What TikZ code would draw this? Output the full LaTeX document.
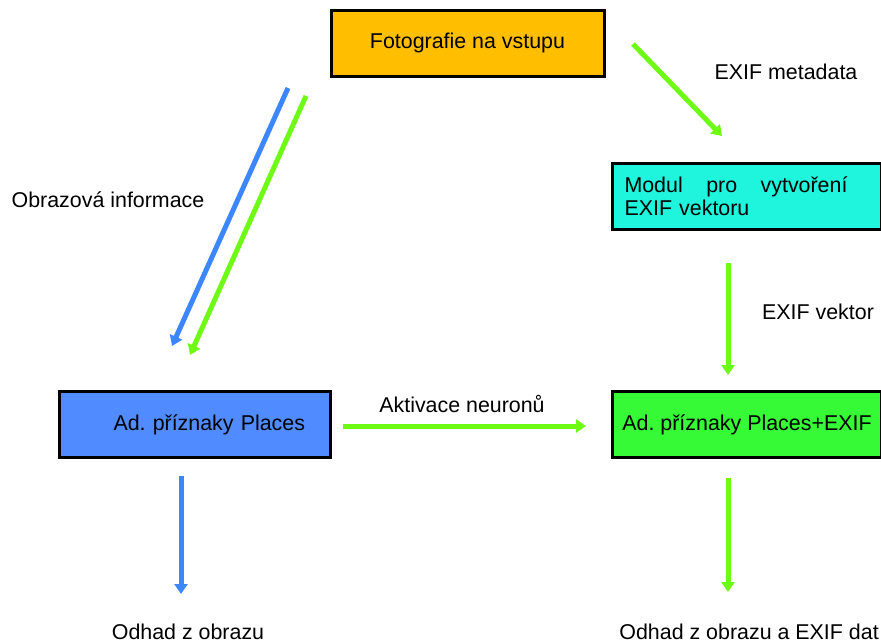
\documentclass[tikz,border=0pt]{standalone}
\usepackage{fontspec}
\setmainfont{Liberation Sans}
\usetikzlibrary{arrows.meta}

\definecolor{boxorange}{RGB}{255,190,0}
\definecolor{boxcyan}{RGB}{30,245,220}
\definecolor{boxblue}{RGB}{80,140,255}
\definecolor{boxgreen}{RGB}{55,250,55}
\definecolor{arrgreen}{RGB}{110,250,20}
\definecolor{arrblue}{RGB}{60,135,255}

\begin{document}
\begin{tikzpicture}[x=0.5pt,y=-0.5pt]
	\tikzstyle{every node}+=[font=\fontsize{10.7}{11.5}\selectfont\frenchspacing]
	\tikzstyle{box}=[draw=black,line width=1.5pt,rectangle,inner sep=0pt,minimum height=33pt]
	\tikzstyle{lbl}=[inner sep=0pt,anchor=base]
	\tikzstyle{greenarr}=[draw=arrgreen,line width=2.5pt,-{Triangle[length=5pt,width=6.5pt]}]
	\tikzstyle{bluearr}=[draw=arrblue,line width=2.5pt,-{Triangle[length=5pt,width=6.5pt]}]
	\useasboundingbox (0,0) rectangle (881,643);
	% boxes
	\node [box,fill=boxorange,minimum width=136.5pt] (foto) at (467.5,43) {Fotografie na vstupu};
	\node [box,fill=boxcyan,inner xsep=6pt,text width=122.5pt,align=left] (modul) at (747,196.5)
		{Modul\hfill pro\hfill vytvoření\kern11pt\\EXIF vektoru};
	\node [box,fill=boxblue,inner xsep=12.5pt,text width=110.5pt,align=right] (places) at (194.5,424.5) {Ad. příznaky Places};
	\node [box,fill=boxgreen,minimum width=134.5pt] (placesexif) at (747,424.5) {Ad. příznaky Places+EXIF};
	% arrow ends
	\coordinate (meta0) at (633,44);
	\coordinate (meta1) at (722,136);
	\coordinate (obrB0) at (288,88);
	\coordinate (obrB1) at (172,346);
	\coordinate (obrG0) at (306,96);
	\coordinate (obrG1) at (190,355);
	\coordinate (vek0) at (728,263);
	\coordinate (vek1) at (728,375);
	\coordinate (akt0) at (343,426);
	\coordinate (akt1) at (586,426);
	\coordinate (odh0) at (181,476);
	\coordinate (odh1) at (181,594);
	\coordinate (odhx0) at (728,478);
	\coordinate (odhx1) at (728,592);
	% arrows
	\draw [greenarr] (meta0) -- (meta1);
	\draw [bluearr] (obrB0) -- (obrB1);
	\draw [greenarr] (obrG0) -- (obrG1);
	\draw [greenarr] (vek0) -- (vek1);
	\draw [greenarr] (akt0) -- (akt1);
	\draw [bluearr] (odh0) -- (odh1);
	\draw [greenarr] (odhx0) -- (odhx1);
	% labels
	\node [lbl] (metalbl) at (786,79.5) {EXIF metadata};
	\node [lbl] (obrlbl) at (108,207) {Obrazová informace};
	\node [lbl] (veklbl) at (818,319.5) {EXIF vektor};
	\node [lbl] (aktlbl) at (462,412) {Aktivace neuronů};
	\node [lbl] (odhlbl) at (188,639) {Odhad z obrazu};
	\node [lbl,anchor=base west] (odhxlbl) at (619,639) {Odhad z obrazu a EXIF dat};
\end{tikzpicture}
\end{document}
